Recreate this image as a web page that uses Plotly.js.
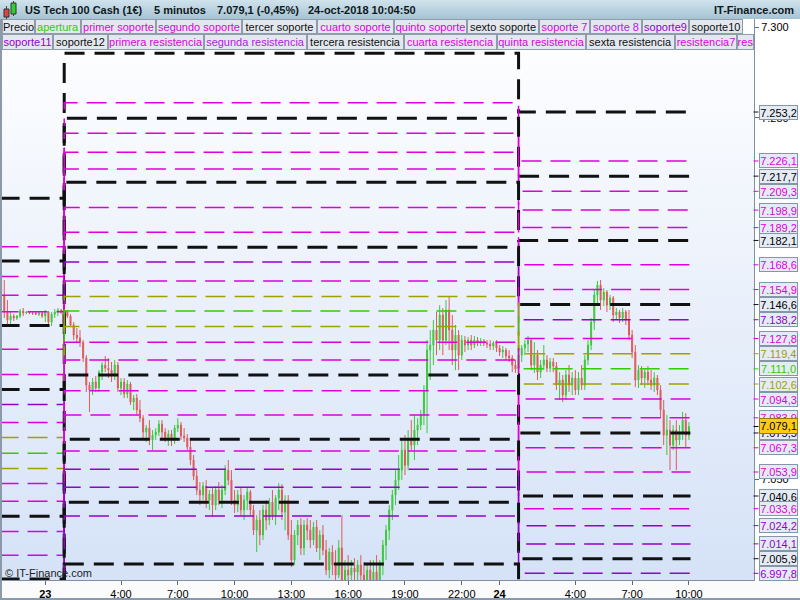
<!DOCTYPE html>
<html><head><meta charset="utf-8">
<script src="https://cdn.plot.ly/plotly-3.0.1.min.js"></script>
<style>
html,body{margin:0;padding:0;background:#fff;}
#wrap{position:relative;width:800px;height:600px;overflow:hidden;background:#fbfbfc;}
#hdr{position:absolute;left:0;top:0;width:800px;height:19px;background:linear-gradient(#d0e3ed,#a6c3d3);}
#bg{position:absolute;left:2px;top:19px;width:752px;height:561px;background:linear-gradient(#ffffff,#d5e2f7);}
#rt{position:absolute;left:754px;top:19px;width:46px;height:561px;background:#fff;}
#lb{position:absolute;left:0;top:19px;width:2px;height:581px;background:#8a9aaa;}
#bb{position:absolute;left:0;top:598px;width:800px;height:2px;background:#8a9aaa;}
#chart{position:absolute;left:0;top:0;width:800px;height:600px;}
</style></head><body>
<div id="wrap"><div id="hdr"></div><div id="bg"></div><div id="rt"></div><div id="lb"></div><div id="bb"></div><div id="chart"></div></div>
<script>
// ---------- DATA ----------
const barStartUTC = Date.UTC(2018, 9, 22, 21, 40); // first bar 22-oct 21:40, 10-minute bars
const barMinutes = 10;
const openP = [7162.9,7151.9,7142.5,7138.0,7140.2,7139.1,7140.2,7143.0,7141.9,7142.5,7141.9,7141.9,7141.3,7141.9,7140.2,7142.5,7136.9,7141.3,7142.5,7143.6,
7143.0,7143.3,7140.2,7135.3,7129.7,7128.1,7125.8,7117.0,7102.0,7099.3,7103.7,7100.4,7109.2,7113.1,7111.4,7110.3,7107.6,7113.1,7100.4,7103.7,
7097.1,7102.6,7092.6,7094.8,7088.2,7083.7,7076.0,7078.2,7071.6,7074.3,7076.0,7080.4,7076.0,7072.7,7074.9,7071.6,7078.2,7079.9,7073.8,7072.7,
7067.7,7060.5,7051.6,7043.9,7041.1,7046.1,7038.3,7041.7,7035.6,7043.9,7038.3,7043.9,7054.9,7049.4,7038.3,7035.6,7041.1,7032.8,7038.3,7042.8,
7032.8,7021.7,7027.3,7019.0,7032.8,7027.3,7037.2,7030.0,7039.4,7043.9,7031.7,7038.3,7019.0,7005.1,7019.0,7024.5,7011.8,7024.5,7021.7,7016.2,
7023.4,7011.8,7019.0,7010.7,6999.6,7009.6,7002.4,6996.8,7011.8,6994.0,6999.6,6996.8,7000.7,6998.5,7002.4,6996.8,6991.3,6999.6,6992.9,6998.5,
6991.3,7002.4,7013.4,7021.7,7032.8,7041.1,7049.4,7054.9,7066.0,7057.7,7071.6,7068.8,7077.1,7079.9,7085.4,7099.3,7121.4,7124.2,7132.5,7126.9,
7140.8,7126.9,7143.6,7132.5,7121.4,7129.7,7118.6,7126.9,7124.2,7126.9,7124.2,7126.9,7125.8,7126.4,7125.3,7124.7,7123.6,7125.3,7122.5,7120.3,
7121.4,7118.1,7117.0,7113.1,7111.0,7118.6,7122.5,7124.7,7126.9,7113.1,7118.6,7109.2,7113.1,7115.9,7111.4,7114.8,7112.5,7102.0,7104.8,7096.5,
7107.6,7102.0,7105.9,7099.3,7105.9,7102.0,7115.9,7124.2,7136.9,7151.9,7157.4,7149.1,7153.5,7146.3,7150.2,7140.8,7142.5,7139.1,7142.5,7138.0,
7129.7,7120.3,7104.8,7110.3,7105.9,7109.2,7104.8,7102.0,7105.9,7099.3,7088.2,7074.3,7077.1,7068.8,7077.1,7071.6,7076.0,7082.6,7074.3];
const highP = [7165.1,7160.2,7149.1,7142.5,7141.3,7140.8,7144.1,7144.7,7143.0,7143.0,7142.5,7143.0,7142.5,7143.0,7143.6,7143.0,7142.5,7144.1,7144.7,7144.1,
7144.1,7143.6,7141.3,7136.9,7133.6,7132.5,7126.9,7118.6,7103.7,7105.9,7107.0,7110.3,7114.8,7118.1,7117.0,7114.8,7115.9,7114.8,7105.9,7105.9,
7104.8,7103.7,7096.5,7097.1,7093.7,7085.4,7079.9,7082.6,7077.1,7078.2,7082.6,7082.6,7078.2,7077.1,7077.1,7079.9,7083.7,7081.5,7078.2,7074.9,
7071.6,7063.3,7054.9,7048.3,7048.3,7049.4,7043.9,7045.0,7046.1,7048.3,7046.6,7057.7,7060.5,7054.9,7043.9,7043.9,7045.0,7041.1,7045.0,7043.9,
7035.6,7030.0,7032.8,7035.6,7038.3,7039.4,7043.9,7041.1,7047.7,7047.2,7041.1,7041.1,7027.3,7021.7,7027.3,7028.4,7027.3,7028.4,7027.3,7026.2,
7027.3,7021.7,7024.5,7016.2,7011.8,7013.4,7010.7,7016.2,7030.0,7005.1,7007.9,7005.1,7006.2,7005.1,7007.9,7004.0,7002.4,7005.1,7005.1,7007.9,
7005.1,7016.2,7024.5,7035.6,7043.9,7054.9,7063.3,7071.6,7074.3,7077.1,7082.6,7085.4,7083.7,7088.2,7102.0,7126.9,7132.5,7138.0,7142.5,7146.3,
7144.7,7149.1,7150.8,7140.8,7135.3,7132.5,7129.7,7129.2,7128.6,7129.7,7129.2,7128.6,7128.1,7127.5,7126.9,7126.9,7126.4,7126.9,7124.2,7123.6,
7122.5,7121.4,7118.6,7115.9,7121.4,7124.2,7126.9,7129.2,7128.1,7125.8,7121.4,7115.9,7124.2,7118.6,7117.0,7117.0,7114.8,7109.2,7107.6,7110.3,
7113.1,7109.2,7110.3,7109.2,7113.1,7118.6,7126.9,7139.1,7154.6,7159.7,7160.2,7155.7,7154.6,7151.9,7151.3,7144.7,7143.6,7144.7,7143.6,7143.6,
7132.5,7124.2,7113.1,7112.5,7111.4,7112.5,7110.3,7109.2,7107.6,7102.0,7093.7,7085.4,7082.6,7079.9,7082.6,7079.9,7087.1,7086.5,7081.5];
const lowP = [7149.1,7139.1,7134.7,7135.8,7137.5,7138.0,7139.1,7140.2,7141.3,7141.3,7140.8,7140.8,7140.2,7139.1,7136.9,7134.7,7134.7,7139.1,7140.2,7141.3,
7141.3,7139.1,7134.2,7126.9,7125.8,7123.1,7114.8,7098.2,7087.1,7096.5,7098.2,7098.2,7104.8,7109.2,7105.9,7103.7,7104.8,7098.2,7096.5,7094.8,
7094.8,7091.0,7088.2,7085.4,7081.5,7071.6,7070.5,7068.8,7066.0,7071.6,7073.8,7072.7,7070.5,7068.3,7068.3,7069.4,7076.0,7071.6,7070.5,7066.0,
7057.7,7049.4,7041.1,7035.6,7038.3,7033.9,7032.8,7029.1,7032.8,7035.6,7033.9,7041.1,7046.6,7035.6,7031.2,7031.7,7030.0,7027.3,7032.8,7030.0,
7019.0,7009.6,7013.4,7016.2,7021.7,7024.5,7027.3,7024.5,7032.8,7027.3,7021.7,7016.2,7001.3,7002.4,7013.4,7007.9,7007.9,7016.2,7011.8,7013.4,
7009.6,7005.1,7007.9,6996.8,6995.1,6996.8,6991.3,6995.1,6988.5,6987.4,6991.3,6988.5,6994.0,6991.3,6994.0,6987.4,6985.7,6988.5,6985.7,6988.5,
6984.1,6996.8,7005.1,7016.2,7027.3,7035.6,7043.9,7049.4,7052.2,7054.9,7066.0,7060.5,7068.8,7077.1,7079.9,7075.4,7104.8,7113.1,7118.6,7121.4,
7118.6,7124.2,7121.4,7113.1,7110.3,7110.3,7115.9,7120.3,7121.4,7121.4,7122.5,7123.6,7123.6,7123.6,7122.5,7121.4,7121.4,7120.3,7118.1,7117.0,
7115.9,7114.8,7109.2,7108.7,7109.2,7114.8,7118.6,7120.3,7110.3,7108.7,7104.8,7105.9,7110.3,7109.2,7109.2,7109.2,7099.3,7093.7,7092.6,7093.7,
7098.2,7096.5,7096.5,7096.5,7099.3,7099.3,7113.1,7121.4,7132.5,7146.3,7143.6,7145.8,7142.5,7143.6,7136.9,7138.0,7136.4,7136.9,7135.3,7126.9,
7117.0,7100.9,7100.4,7102.0,7100.4,7102.0,7099.3,7098.2,7096.5,7083.7,7068.8,7063.3,7054.9,7066.0,7054.9,7068.8,7071.6,7067.2,7071.6];
const closeP = [7151.9,7142.5,7138.0,7140.2,7139.1,7140.2,7143.0,7141.9,7142.5,7141.9,7141.9,7141.3,7141.9,7140.2,7142.5,7136.9,7141.3,7142.5,7143.6,7142.5,
7143.3,7140.2,7135.3,7129.7,7128.1,7125.8,7117.0,7102.0,7099.3,7103.7,7100.4,7109.2,7113.1,7111.4,7110.3,7107.6,7113.1,7100.4,7103.7,7097.1,
7102.6,7092.6,7094.8,7088.2,7083.7,7076.0,7078.2,7071.6,7074.3,7076.0,7080.4,7076.0,7072.7,7074.9,7071.6,7078.2,7079.9,7073.8,7072.7,7067.7,
7060.5,7051.6,7043.9,7041.1,7046.1,7038.3,7041.7,7035.6,7043.9,7038.3,7043.9,7054.9,7049.4,7038.3,7035.6,7041.1,7032.8,7038.3,7042.8,7032.8,
7021.7,7027.3,7019.0,7032.8,7027.3,7037.2,7030.0,7039.4,7043.9,7031.7,7038.3,7019.0,7005.1,7019.0,7024.5,7011.8,7024.5,7021.7,7016.2,7023.4,
7011.8,7019.0,7010.7,6999.6,7009.6,7002.4,6996.8,7011.8,6994.0,6999.6,6996.8,7000.7,6998.5,7002.4,6996.8,6991.3,6999.6,6992.9,6998.5,6991.3,
7002.4,7013.4,7021.7,7032.8,7041.1,7049.4,7054.9,7066.0,7057.7,7071.6,7068.8,7077.1,7079.9,7085.4,7099.3,7121.4,7124.2,7132.5,7126.9,7140.8,
7126.9,7143.6,7132.5,7121.4,7129.7,7118.6,7126.9,7124.2,7126.9,7124.2,7126.9,7125.8,7126.4,7125.3,7124.7,7123.6,7125.3,7122.5,7120.3,7121.4,
7118.1,7117.0,7113.1,7110.9,7118.6,7122.5,7124.7,7126.9,7113.1,7118.6,7109.2,7113.1,7115.9,7111.4,7114.8,7112.5,7102.0,7104.8,7096.5,7107.6,
7102.0,7105.9,7099.3,7105.9,7102.0,7115.9,7124.2,7136.9,7151.9,7157.4,7149.1,7153.5,7146.3,7150.2,7140.8,7142.5,7139.1,7142.5,7138.0,7129.7,
7120.3,7104.8,7110.3,7105.9,7109.2,7104.8,7102.0,7105.9,7099.3,7088.2,7074.3,7077.1,7068.8,7077.1,7071.6,7076.0,7082.6,7074.3,7079.1];

// support / resistance levels: one value per trading day (22-oct, 23-oct, 24-oct)
const levelDay1 = [7205.4,7178.6,7170.7,7162.2,7151.7,7142.6,7135.0,7121.9,7107.9,7099.6,7091.3,7081.3,7073.0,7064.3,7055.8,7047.5,7037.7,7029.4,7020.9,7007.8,6994.6,6987.0,6977.5,6967.4,6959.2,6951.1,6922.2];
const levelDay2 = [7285.7,7258.3,7249.7,7241.4,7230.9,7221.6,7214.3,7200.4,7186.6,7178.3,7170.1,7159.6,7151.1,7143.0,7134.5,7125.7,7115.9,7107.6,7098.9,7085.4,7072.0,7065.5,7055.4,7045.4,7037.1,7029.5,7002.9];
const levelDay3 = [7253.2,7226.1,7217.7,7209.3,7198.9,7189.2,7182.1,7168.6,7154.9,7146.6,7138.2,7127.8,7119.4,7111.0,7102.6,7094.3,7083.9,7075.5,7067.3,7053.9,7040.6,7033.6,7024.2,7014.1,7005.9,6997.8,6970.9];
const levelKind = ['k','m','k','m','m','m','k','m','m','k','p','m','o','g','o','m','m','k','m','m','k','m','p','p','k','p','k'];
const dayStarts = ['2018-10-22 20:00','2018-10-23 01:00','2018-10-24 01:00','2018-10-24 10:05'];
const lastPrice = 7079.1;
const yTickVals = [7050, 7250, 7300];

const legendRow1 = ['Precio','apertura','primer soporte','segundo soporte','tercer soporte','cuarto soporte','quinto soporte','sexto soporte','soporte 7','soporte 8','soporte9','soporte10'];
const legendRow1Kind = ['k','g','m','m','k','m','m','k','m','v','p','k'];
const legendRow2 = ['soporte11','soporte12','primera resistencia','segunda resistencia','tercera resistencia','cuarta resistencia','quinta resistencia','sexta resistencia','resistencia7','res'];
const legendRow2Kind = ['p','k','m','v','k','m','m','k','m','m'];

const xTickVals = ['2018-10-23 00:00','2018-10-23 04:00','2018-10-23 07:00','2018-10-23 10:00','2018-10-23 13:00','2018-10-23 16:00','2018-10-23 19:00','2018-10-23 22:00','2018-10-24 00:00','2018-10-24 04:00','2018-10-24 07:00','2018-10-24 10:00'];
const xTickText = ['<b>23</b>','4:00','7:00','10:00','13:00','16:00','19:00','22:00','<b>24</b>','4:00','7:00','10:00'];

// ---------- STYLE ----------
const COL = {k:'#111111', m:'#dd00dd', p:'#9400cc', v:'#b020e0', o:'#a0a000', g:'#33cc00'};
const FONT = 'Liberation Sans, Arial, sans-serif';
const PL = 2, PR = 754, PT = 19, PB = 580;
const W = PR - PL, H = PB - PT;
const px = x => (x - PL) / W;
const py = y => 1 - (y - PT) / H;
const xRange = ['2018-10-22 21:42:47', '2018-10-24 13:26:13'];
const yRange = [6994.1, 7304.7];

function fmt(v) {
  const s = v.toFixed(1).split('.');
  return s[0].replace(/\B(?=(\d{3})+(?!\d))/g, '.') + ',' + s[1];
}
function pad(n){return String(n).padStart(2,'0');}
const times = openP.map((_, i) => {
  const d = new Date(barStartUTC + i * barMinutes * 60000);
  return d.getUTCFullYear() + '-' + pad(d.getUTCMonth()+1) + '-' + pad(d.getUTCDate()) + ' ' + pad(d.getUTCHours()) + ':' + pad(d.getUTCMinutes());
});

const traces = [{
  type: 'candlestick', x: times, open: openP, high: highP, low: lowP, close: closeP,
  increasing: {line: {color: '#3cc83c', width: 1}, fillcolor: '#3cc83c'},
  decreasing: {line: {color: '#e05a5a', width: 1}, fillcolor: '#e05a5a'},
  whiskerwidth: 0, hoverinfo: 'skip', showlegend: false
}];
levelKind.forEach((k, i) => {
  const isK = k === 'k';
  traces.push({
    type: 'scatter', mode: 'lines', x: dayStarts,
    y: [levelDay1[i], levelDay2[i], levelDay3[i], levelDay3[i]],
    line: {shape: 'hv', color: COL[k], width: isK ? 3 : 1.5, dash: isK ? '20px,10px' : '20px,9px'},
    hoverinfo: 'skip', showlegend: false
  });
});

const ann = [];
const shapes = [];
// header
const hy = 1 + (PT - 9.5) / H;
[['US Tech 100 Cash (1€)', 23], ['5 minutos', 152], ['7.079,1 (-0,45%)', 215], ['24-oct-2018 10:04:50', 306]].forEach(([t, x]) => {
  ann.push({xref:'paper', yref:'paper', x: px(x), y: hy, xanchor:'left', yanchor:'middle', text:'<b>'+t+'</b>', showarrow:false, font:{family:FONT, size:11, color:'#101820'}});
});
ann.push({xref:'paper', yref:'paper', x: px(796), y: hy, xanchor:'right', yanchor:'middle', text:'<b>IT-Finance.com</b>', showarrow:false, font:{family:FONT, size:11, color:'#101820'}});
// header icon
shapes.push({type:'line', xref:'paper', yref:'paper', x0:px(6.5), x1:px(6.5), y0:py(6), y1:py(19), line:{color:'#444', width:1}});
shapes.push({type:'rect', xref:'paper', yref:'paper', x0:px(4), x1:px(9), y0:py(9), y1:py(17), fillcolor:'#e04040', line:{color:'#333', width:1}});
shapes.push({type:'line', xref:'paper', yref:'paper', x0:px(13.5), x1:px(13.5), y0:py(1), y1:py(16), line:{color:'#444', width:1}});
shapes.push({type:'rect', xref:'paper', yref:'paper', x0:px(11), x1:px(16), y0:py(3), y1:py(14), fillcolor:'#30d030', line:{color:'#333', width:1}});

// legend rows
const row1X = [2,35,81,156,242,317,394,467,539,590,642,689,743];
const row2X = [2,53,108,204,307,404,497,586,675,737,754];
function legendRow(names, kinds, xs, y0, h) {
  names.forEach((n, i) => {
    const w = xs[i+1] - xs[i];
    ann.push({xref:'paper', yref:'paper', x: px(xs[i]), y: py(y0), xanchor:'left', yanchor:'top',
      text: n, showarrow:false, width: w - 2, height: h - 2, borderpad: 0, borderwidth: 1,
      bgcolor:'#e2e8ee', bordercolor:'#8e9cab', align:'center', valign:'middle',
      font:{family:FONT, size:11, color: COL[kinds[i]]}});
  });
}
legendRow(legendRow1, legendRow1Kind, row1X, 19, 15);
legendRow(legendRow2, legendRow2Kind, row2X, 34, 16);

// level labels on the right axis
levelDay3.forEach((v, i) => {
  if (v < yRange[0] || v > yRange[1]) return;
  const c = COL[levelKind[i]];
  ann.push({xref:'paper', yref:'y', x: px(753.5), y: v, ax: 5, ay: 0, xanchor:'left', yanchor:'middle',
    text: fmt(v), showarrow:true, arrowhead:0, arrowwidth:1, arrowcolor:c, standoff:0,
    width: 37, height: 13, borderpad: 0, borderwidth: 1, bgcolor:'#e4ebf5', bordercolor:'#8496a8',
    font:{family:FONT, size:11, color: levelKind[i]==='k' ? '#000' : c}});
});
ann.push({xref:'paper', yref:'y', x: px(753.5), y: lastPrice, ax: 5, ay: 0, xanchor:'left', yanchor:'middle',
  text: fmt(lastPrice), showarrow:true, arrowhead:0, arrowwidth:1, arrowcolor:'#000', standoff:0,
  width: 37, height: 14, borderpad: 0, borderwidth: 1, bgcolor:'#ffcc11', bordercolor:'#9a7a00',
  font:{family:FONT, size:11, color:'#000'}});
// watermark
ann.push({xref:'paper', yref:'paper', x: px(3), y: py(573), xanchor:'left', yanchor:'middle', text:'© IT-Finance.com', showarrow:false, font:{family:FONT, size:11, color:'#222'}});

const layout = {
  width: 800, height: 600,
  margin: {l: PL, r: 800 - PR, t: PT, b: 600 - PB, pad: 0},
  paper_bgcolor: 'rgba(0,0,0,0)', plot_bgcolor: 'rgba(0,0,0,0)',
  separators: ',.', showlegend: false, boxgap: 0.55,
  font: {family: FONT, size: 11, color: '#000'},
  xaxis: {type:'date', range: xRange, rangeslider:{visible:false}, showgrid:false, zeroline:false,
    showline:true, linecolor:'#7f90a2', linewidth:1, ticks:'outside', ticklen:4, tickcolor:'#5a6b7d',
    tickvals: xTickVals, ticktext: xTickText, tickfont:{family:FONT, size:11, color:'#000'}, fixedrange:true},
  yaxis: {side:'right', range: yRange, showgrid:false, zeroline:false, showline:true, linecolor:'#7f90a2', linewidth:1,
    ticks:'outside', ticklen:4, tickcolor:'#5a6b7d', tickvals: yTickVals, tickformat:',.0f',
    tickfont:{family:FONT, size:11, color:'#000'}, fixedrange:true},
  shapes: shapes, annotations: ann
};
Plotly.newPlot('chart', traces, layout, {displayModeBar:false, staticPlot:true});
</script></body></html>
